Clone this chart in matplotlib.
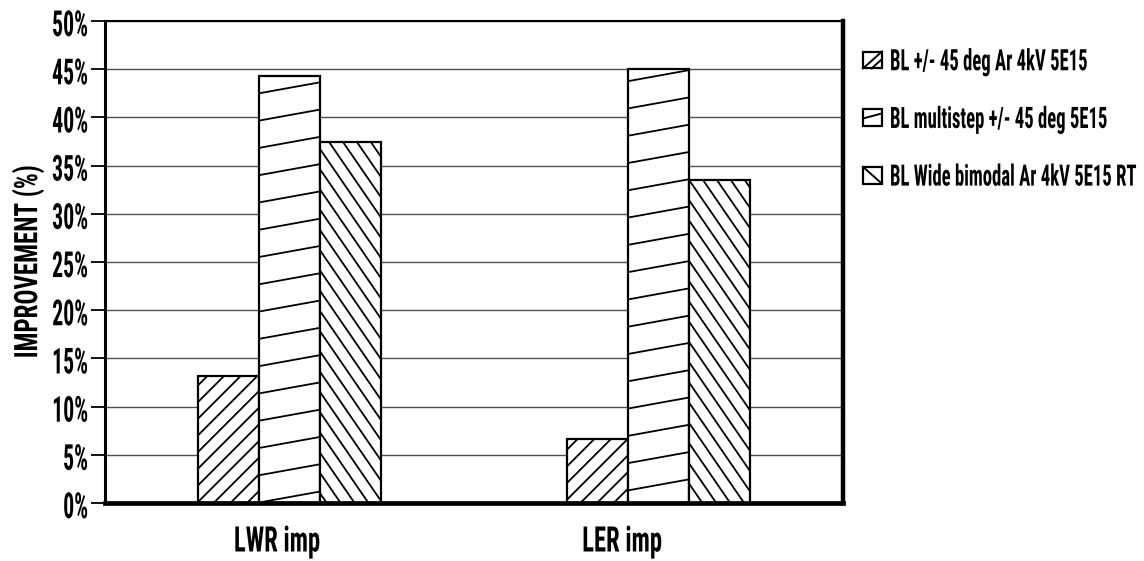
import numpy as np
import matplotlib
matplotlib.use('Agg')
import matplotlib.pyplot as plt
from matplotlib import font_manager
from matplotlib.patches import Patch, Rectangle
from matplotlib.lines import Line2D
from matplotlib.legend_handler import HandlerBase
from matplotlib.patheffects import AbstractPathEffect
from matplotlib.transforms import Affine2D, ScaledTranslation
from matplotlib.textpath import TextPath

# data
categories = ['LWR imp', 'LER imp']
series = ['BL +/- 45 deg Ar 4kV 5E15',
          'BL multistep +/- 45 deg 5E15',
          'BL Wide bimodal Ar 4kV 5E15 RT']
bl_45 = [13.2, 6.6]
bl_multistep = [44.3, 45.0]
bl_bimodal = [37.4, 33.5]
yticks = [0, 5, 10, 15, 20, 25, 30, 35, 40, 45, 50]
ytick_labels = ['0%', '5%', '10%', '15%', '20%', '25%', '30%', '35%', '40%', '45%', '50%']
ylabel = 'IMPROVEMENT (%)'

# pick a narrow face if there is one
names = {f.name for f in font_manager.fontManager.ttflist}
family = next((n for n in ['Roboto Condensed', 'Liberation Sans Narrow',
                           'Archivo Narrow', 'Asap Condensed'] if n in names), 'DejaVu Sans')
plt.rcParams['font.family'] = [family, 'DejaVu Sans']
plt.rcParams['font.weight'] = 'bold'
plt.rcParams['font.stretch'] = 'condensed'
plt.rcParams['hatch.linewidth'] = 1.3
plt.rcParams['hatch.color'] = 'black'
prop = font_manager.FontProperties(family=[family, 'DejaVu Sans'], weight='bold',
                                   stretch='condensed')


def fit(text, width_px, cap_px):
    # font size giving the wanted width, and the vertical stretch for the cap height
    wd = TextPath((0, 0), text, size=10, prop=prop).get_extents().width * 100 / 72
    size = 10 * width_px / wd
    cap = TextPath((0, 0), 'H', size=size, prop=prop).get_extents().height * 100 / 72
    return size, cap_px / cap


class Tall(AbstractPathEffect):
    # stretch glyphs vertically (about mid cap height) for the tall condensed look
    def __init__(self, sy):
        super().__init__()
        self.tr = Affine2D().translate(0, -36).scale(1, sy).translate(0, 36)

    def draw_path(self, renderer, gc, tpath, affine, rgbFace=None):
        renderer.draw_path(gc, tpath, self.tr + affine, rgbFace)


def shift(t, dx, dy):
    # nudge a text by pixels
    t.set_transform(t.get_transform() + ScaledTranslation(dx / 100, dy / 100, fig.dpi_scale_trans))


class BoxHandler(HandlerBase):
    def __init__(self, segs):
        super().__init__()
        self.segs = segs

    def create_artists(self, legend, orig_handle, xdescent, ydescent,
                       width, height, fontsize, trans):
        x0, y0 = -xdescent, -ydescent
        arts = [Rectangle((x0, y0), width, height, facecolor='white',
                          edgecolor='black', lw=1.6, transform=trans)]
        for a, b, c, d in self.segs:
            arts.append(Line2D([x0 + a * width, x0 + c * width],
                               [y0 + b * height, y0 + d * height],
                               color='black', lw=1.4, transform=trans))
        return arts


def line_family(ax, patch, slope, step, x_ref, y_ref):
    # parallel slanted lines clipped to the bar
    x0 = patch.get_x()
    x1 = x0 + patch.get_width()
    ya = y_ref + slope * (x0 - x_ref)
    yb = y_ref + slope * (x1 - x_ref)
    lo = int(np.floor((0 - max(ya, yb)) / step))
    hi = int(np.ceil((patch.get_height() - min(ya, yb)) / step))
    for k in range(lo, hi + 1):
        ln, = ax.plot([x0, x1], [ya + k * step, yb + k * step],
                      color='black', lw=1.3, zorder=2.5)
        ln.set_clip_path(patch)


fig = plt.figure(figsize=(11.44, 5.61), dpi=100)
ax = fig.add_axes([105 / 1144, 1 - 503 / 561, (843 - 105) / 1144, (503 - 21) / 561])

x = np.arange(len(categories))
w = 0.166
kw = dict(width=w, color='white', edgecolor='black', linewidth=1.6, zorder=2)
b1 = ax.bar(x - w, bl_45, hatch='//', **kw)
b2 = ax.bar(x, bl_multistep, **kw)
b3 = ax.bar(x + w, bl_bimodal, **kw)

for p in b2:
    line_family(ax, p, 6.92, 2.83, 0.0825, 43.64)
for p in b3:
    line_family(ax, p, -55.7, 2.1, 1.083, 33.5)

ax.set_xlim(-0.5, 1.5)
ax.set_ylim(0, 50)
ax.set_axisbelow(True)
ax.yaxis.grid(True, color='#505050', lw=1.0)

ax.spines['left'].set_linewidth(2.2)
ax.spines['bottom'].set_linewidth(3.4)
ax.spines['right'].set_linewidth(3.2)
ax.spines['top'].set_linewidth(1.5)

ys, ysy = fit('50%', 34, 25.5)
xs, xsy = fit('LWR imp', 84, 25)
ls_, lsy = fit('IMPROVEMENT', 153, 23)
gs, gsy = fit(series[2], 245, 21)

ax.set_yticks(yticks, ytick_labels, fontsize=ys)
ax.tick_params(axis='y', length=10, width=1.3, pad=2.2)
ax.set_xticks(x, categories, fontsize=xs)
ax.tick_params(axis='x', length=0, pad=18.5)
for t in ax.get_yticklabels():
    t.set_path_effects([Tall(ysy)])
    shift(t, 0, -1.5)
for t, dx in zip(ax.get_xticklabels(), [-12.5, -36.5]):
    t.set_path_effects([Tall(xsy)])
    shift(t, dx, 0)

ax.set_ylabel(ylabel, fontsize=ls_, fontweight='bold', labelpad=8.5)
ax.yaxis.label.set_path_effects([Tall(lsy)])

handles = [Patch(label=s) for s in series]
hmap = {handles[0]: BoxHandler([(0, 0, 1, 1), (0.45, 0, 1, 0.55)]),
        handles[1]: BoxHandler([(0, 0.45, 1, 0.75)]),
        handles[2]: BoxHandler([(0, 1, 1, 0)])}
fs_px = gs * 100 / 72
leg = fig.legend(handles=handles, handler_map=hmap, loc='upper left',
                 bbox_to_anchor=(863 / 1144, 1 - 51.5 / 561), frameon=False,
                 fontsize=gs, handlelength=19 / fs_px, handleheight=19 / fs_px,
                 handletextpad=8 / fs_px, labelspacing=(57.5 - fs_px) / fs_px,
                 borderpad=0, borderaxespad=0)
for t in leg.get_texts():
    t.set_path_effects([Tall(gsy)])

fig.savefig('out.png', dpi=100)
